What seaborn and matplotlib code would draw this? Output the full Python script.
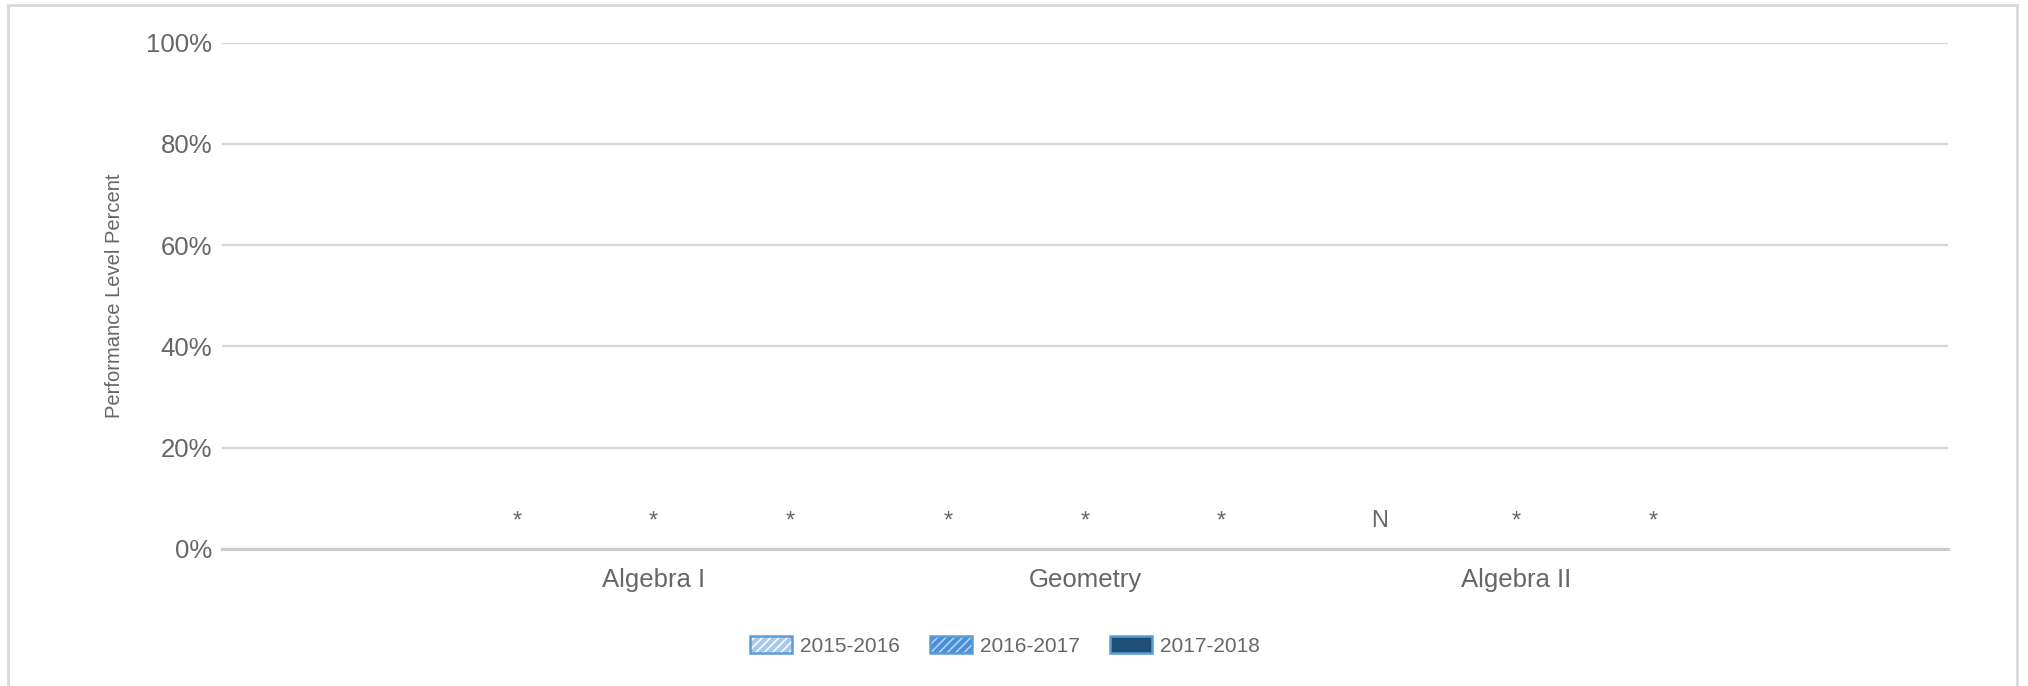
import pandas as pd
import matplotlib
matplotlib.use("Agg")
import matplotlib.pyplot as plt
import seaborn as sns
from matplotlib.patches import Patch, Rectangle
from matplotlib.legend_handler import HandlerTuple
from matplotlib.ticker import PercentFormatter

subjects = ["Algebra I", "Geometry", "Algebra II"]
years = ["2015-2016", "2016-2017", "2017-2018"]
vals_1516 = [0, 0, 0]
vals_1617 = [0, 0, 0]
vals_1718 = [0, 0, 0]
labels_1516 = ["*", "*", "N"]
labels_1617 = ["*", "*", "*"]
labels_1718 = ["*", "*", "*"]

df = pd.DataFrame({
    "subject": subjects * 3,
    "year": [years[0]] * 3 + [years[1]] * 3 + [years[2]] * 3,
    "value": vals_1516 + vals_1617 + vals_1718,
})

sns.set_style("white")
plt.rcParams["font.family"] = ["Liberation Sans", "DejaVu Sans"]
plt.rcParams["hatch.linewidth"] = 1.1

fills = ["#a9c9ec", "#4a90d9", "#1f4e79"]
hatches = ["////", "////", ""]
hatch_cols = ["#ffffff", "#b9d6f3", "#1f4e79"]
edge = "#5b9bd5"
grey = "#666666"

fig = plt.figure(figsize=(20.28, 6.86), dpi=100)
ax = fig.add_axes([222 / 2028, 1 - 549 / 686, (1948 - 222) / 2028, (549 - 42.7) / 686])

sns.barplot(data=df, x="subject", y="value", hue="year", order=subjects,
            hue_order=years, palette=fills, width=0.95, linewidth=0,
            legend=False, ax=ax)

for cont, labs in zip(ax.containers, [labels_1516, labels_1617, labels_1718]):
    ax.bar_label(cont, labels=labs, padding=12, fontsize=17, color=grey)

ax.set_ylim(0, 100)
ax.set_xlim(-1, 3)
ax.set_yticks([0, 20, 40, 60, 80, 100])
ax.yaxis.set_major_formatter(PercentFormatter(decimals=0))
ax.grid(axis="y", color="#d6d6d6", linewidth=1.7)
ax.set_axisbelow(True)
for s in ["top", "right", "left"]:
    ax.spines[s].set_visible(False)
ax.spines["bottom"].set_color("#cccccc")
ax.spines["bottom"].set_linewidth(2.2)
ax.tick_params(axis="y", length=0, pad=7, labelsize=18.5, labelcolor=grey)
ax.tick_params(axis="x", length=0, pad=14, labelsize=18.5, labelcolor=grey)
ax.set_xlabel("")
ax.set_ylabel("Performance Level Percent", fontsize=14.5, color=grey, labelpad=16)

handles = []
for f, h, hc in zip(fills, hatches, hatch_cols):
    inner = Patch(facecolor=f, edgecolor=hc, hatch=h, linewidth=0)
    outer = Patch(facecolor="none", edgecolor=edge, linewidth=1.8)
    handles.append((inner, outer))
fig.legend(handles, years, handler_map={tuple: HandlerTuple(ndivide=1)},
           loc="center", bbox_to_anchor=(1005 / 2028, 1 - 646 / 686), ncol=3,
           frameon=False, fontsize=15, labelcolor=grey, handlelength=2.0,
           handleheight=0.9, handletextpad=0.4, columnspacing=1.45)

fig.patches.append(Rectangle((8 / 2028, -0.05), (2017 - 8) / 2028, 1.05 - 5 / 686,
                             transform=fig.transFigure, fill=False,
                             edgecolor="#d9d9d9", linewidth=2))

fig.savefig("out.png", dpi=100)
